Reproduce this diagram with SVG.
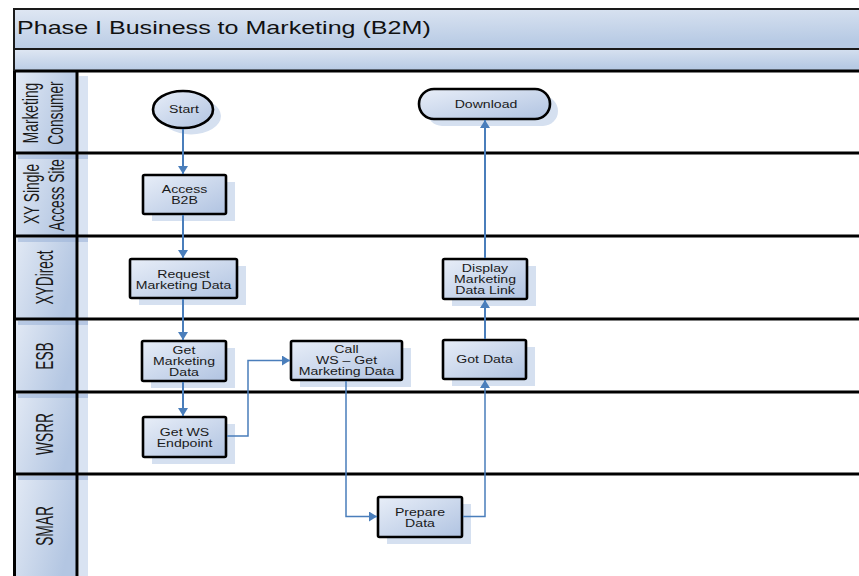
<svg xmlns="http://www.w3.org/2000/svg" width="859" height="576" viewBox="0 0 859 576">
<defs>
<linearGradient id="gBar" x1="0" y1="0" x2="0.3" y2="1">
<stop offset="0" stop-color="#dfe7f3"/><stop offset="1" stop-color="#b7cae4"/>
</linearGradient>
<linearGradient id="gHead" x1="0" y1="0" x2="1" y2="0.4">
<stop offset="0" stop-color="#e3eaf5"/><stop offset="1" stop-color="#b3c6e2"/>
</linearGradient>
<linearGradient id="gNode" x1="0" y1="0" x2="1" y2="1">
<stop offset="0" stop-color="#e8eef8"/><stop offset="1" stop-color="#b0c3e1"/>
</linearGradient>
<marker id="arr" markerUnits="userSpaceOnUse" markerWidth="10" markerHeight="10" refX="8" refY="5" orient="auto">
<path d="M0,0 L8,5 L0,10 z" fill="#4a7ebb"/>
</marker>
</defs>
<style>
.bar{fill:url(#gBar);}
.head{fill:url(#gHead);}
.shadowstrip{fill:#d9e3f2;}
.div{stroke:#000;stroke-width:3;fill:none;}
.thin{stroke:#1a1a1a;stroke-width:2;fill:none;}
.node{fill:url(#gNode);stroke:#000;stroke-width:2.6;}
.shd{fill:#d5e0f0;}
.t{font-family:"Liberation Sans",Arial,sans-serif;font-size:10.7px;fill:#1a1a1a;text-anchor:middle;}
.lane{font-family:"Liberation Sans",Arial,sans-serif;font-size:13.75px;fill:#1a1a1a;text-anchor:middle;}
.title{font-family:"Liberation Sans",Arial,sans-serif;font-size:19px;fill:#111;}
.c{stroke:#4a7ebb;stroke-width:2;fill:none;}
.c2{stroke:#4a7ebb;stroke-width:1.5;fill:none;}
</style>
<rect width="859" height="576" fill="#fff"/>

<g id="pool">
<rect class="bar" x="13" y="9" width="846" height="40"/>
<rect class="bar" x="13" y="49" width="846" height="22"/>
<text class="title" transform="matrix(1.32 0 0 1 17 34.3)">Phase I Business to Marketing (B2M)</text>
<rect class="head" x="14" y="71" width="63" height="82"/>
<rect class="head" x="14" y="153" width="63" height="83"/>
<rect class="head" x="14" y="236" width="63" height="83"/>
<rect class="head" x="14" y="319" width="63" height="73"/>
<rect class="head" x="14" y="392" width="63" height="82"/>
<rect class="head" x="14" y="474" width="63" height="102"/>
<rect class="shadowstrip" x="79" y="76" width="9" height="500"/>
<g fill="#9fb6da" opacity="0.6">
<rect x="18" y="155" width="70" height="4"/>
<rect x="18" y="238" width="70" height="4"/>
<rect x="18" y="321" width="70" height="4"/>
<rect x="18" y="394" width="70" height="4"/>
<rect x="18" y="476" width="70" height="4"/>
</g>
<line class="thin" x1="13" y1="9" x2="859" y2="9"/>
<line class="thin" x1="13" y1="49" x2="859" y2="49"/>
<line class="div" x1="13" y1="71" x2="859" y2="71"/>
<line class="thin" x1="14" y1="9" x2="14" y2="71"/>
<line class="div" x1="14.5" y1="71" x2="14.5" y2="576"/>
<line class="div" x1="77" y1="71" x2="77" y2="576"/>
<line class="div" x1="13" y1="153" x2="859" y2="153"/>
<line class="div" x1="13" y1="236" x2="859" y2="236"/>
<line class="div" x1="13" y1="319" x2="859" y2="319"/>
<line class="div" x1="13" y1="392" x2="859" y2="392"/>
<line class="div" x1="13" y1="474" x2="859" y2="474"/>
</g>

<g id="lane-labels">
<text class="lane" transform="matrix(0 -1 1.6 0 38 113)">Marketing</text>
<text class="lane" transform="matrix(0 -1 1.6 0 63 113)">Consumer</text>
<text class="lane" transform="matrix(0 -1 1.6 0 39 194)">XY Single</text>
<text class="lane" transform="matrix(0 -1 1.6 0 64 195)">Access Site</text>
<text class="lane" transform="matrix(0 -1 1.7 0 53 277.5)">XYDirect</text>
<text class="lane" transform="matrix(0 -1 1.7 0 53 356)">ESB</text>
<text class="lane" transform="matrix(0 -1 1.7 0 53 434)">WSRR</text>
<text class="lane" transform="matrix(0 -1 1.7 0 53 526)">SMAR</text>
</g>

<g id="n-start">
<ellipse class="shd" cx="191" cy="116" rx="30" ry="18.5"/>
<ellipse class="node" cx="183" cy="109.5" rx="30" ry="18.5"/>
<text class="t" transform="matrix(1.32 0 0 1 184 112.8)">Start</text>
</g>
<g id="n-download">
<rect class="shd" x="427" y="96" width="131" height="30" rx="15"/>
<rect class="node" x="419" y="89" width="131" height="30" rx="15"/>
<text class="t" transform="matrix(1.32 0 0 1 486 107.8)">Download</text>
</g>
<g id="n-access">
<rect class="shd" x="152" y="182" width="83" height="39"/>
<rect class="node" x="143" y="175" width="83" height="39" rx="1.5"/>
<text class="t" transform="matrix(1.32 0 0 1 184.5 192.8)">Access</text>
<text class="t" transform="matrix(1.32 0 0 1 184.5 203.8)">B2B</text>
</g>
<g id="n-request">
<rect class="shd" x="139" y="266" width="107" height="39"/>
<rect class="node" x="130" y="259" width="107" height="39" rx="1.5"/>
<text class="t" transform="matrix(1.32 0 0 1 183.5 277.5)">Request</text>
<text class="t" transform="matrix(1.32 0 0 1 183.5 288.5)">Marketing Data</text>
</g>
<g id="n-getmkt">
<rect class="shd" x="151" y="348" width="84" height="40"/>
<rect class="node" x="142" y="341" width="84" height="40" rx="1.5"/>
<text class="t" transform="matrix(1.32 0 0 1 184 353.8)">Get</text>
<text class="t" transform="matrix(1.32 0 0 1 184 364.8)">Marketing</text>
<text class="t" transform="matrix(1.32 0 0 1 184 375.8)">Data</text>
</g>
<g id="n-getws">
<rect class="shd" x="152" y="424" width="83" height="40"/>
<rect class="node" x="143" y="417" width="83" height="40" rx="1.5"/>
<text class="t" transform="matrix(1.32 0 0 1 184.5 435.5)">Get WS</text>
<text class="t" transform="matrix(1.32 0 0 1 184.5 446.5)">Endpoint</text>
</g>
<g id="n-callws">
<rect class="shd" x="300" y="348" width="111" height="39"/>
<rect class="node" x="291" y="341" width="111" height="39" rx="1.5"/>
<text class="t" transform="matrix(1.32 0 0 1 346.5 353)">Call</text>
<text class="t" transform="matrix(1.32 0 0 1 346.5 364)">WS – Get</text>
<text class="t" transform="matrix(1.32 0 0 1 346.5 375)">Marketing Data</text>
</g>
<g id="n-gotdata">
<rect class="shd" x="452" y="347" width="83" height="39"/>
<rect class="node" x="443" y="340" width="83" height="39" rx="1.5"/>
<text class="t" transform="matrix(1.32 0 0 1 484.5 363.3)">Got Data</text>
</g>
<g id="n-display">
<rect class="shd" x="452" y="266" width="84" height="40"/>
<rect class="node" x="443" y="259" width="84" height="40" rx="1.5"/>
<text class="t" transform="matrix(1.32 0 0 1 485 271.5)">Display</text>
<text class="t" transform="matrix(1.32 0 0 1 485 282.5)">Marketing</text>
<text class="t" transform="matrix(1.32 0 0 1 485 293.5)">Data Link</text>
</g>
<g id="n-prepare">
<rect class="shd" x="387" y="504" width="84" height="40"/>
<rect class="node" x="378" y="497" width="84" height="40" rx="1.5"/>
<text class="t" transform="matrix(1.32 0 0 1 420 515.5)">Prepare</text>
<text class="t" transform="matrix(1.32 0 0 1 420 526.5)">Data</text>
</g>

<g id="connectors">
<line class="c" x1="183" y1="129" x2="183" y2="174" marker-end="url(#arr)"/>
<line class="c" x1="183" y1="215" x2="183" y2="258" marker-end="url(#arr)"/>
<line class="c" x1="183" y1="299" x2="183" y2="340" marker-end="url(#arr)"/>
<line class="c" x1="183" y1="382" x2="183" y2="416" marker-end="url(#arr)"/>
<polyline class="c2" points="227,436 248,436 248,360.5 290,360.5" marker-end="url(#arr)"/>
<polyline class="c2" points="346,381 346,516.5 377,516.5" marker-end="url(#arr)"/>
<polyline class="c2" points="463,516.5 485,516.5 485,380" marker-end="url(#arr)"/>
<line class="c" x1="485" y1="339" x2="485" y2="300" marker-end="url(#arr)"/>
<line class="c" x1="485" y1="258" x2="485" y2="120" marker-end="url(#arr)"/>
</g>
</svg>
